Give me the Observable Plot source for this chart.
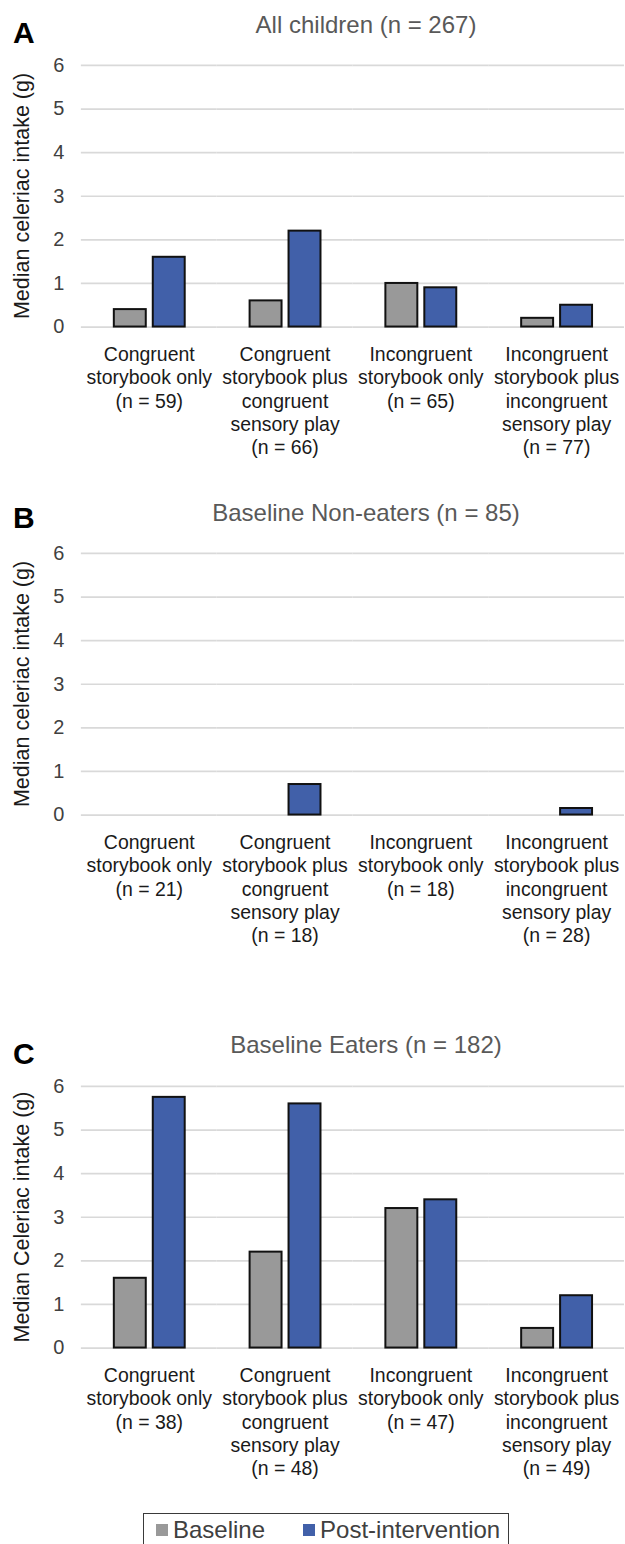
<!DOCTYPE html>
<html>
<head>
<meta charset="utf-8">
<script src="https://cdn.jsdelivr.net/npm/d3@7"></script>
<script src="https://cdn.jsdelivr.net/npm/@observablehq/plot@0.6"></script>
<style>
  html, body { margin: 0; padding: 0; background: #fff; overflow: hidden; }
  #root { position: relative; width: 625px; height: 1544px; font-family: "Liberation Sans", Arial, sans-serif; }
  .abs { position: absolute; white-space: nowrap; }
  .title { font-size: 24px; line-height: 24px; color: #595959; transform: translateX(-50%); }
  .letter { font-size: 30px; line-height: 30px; font-weight: bold; color: #000; }
  .ytitle { font-size: 21.5px; line-height: 22px; color: #1a1a1a; transform: translate(-50%, -50%) rotate(-90deg); }
  .legend { border: 1.5px solid #3a3a3a; display: flex; align-items: center; font-size: 24px; color: #404040; box-sizing: border-box; }
  .legend .sw { display: inline-block; width: 12px; height: 12px; margin-right: 5px; }
  svg { position: absolute; left: 0; overflow: visible; }
</style>
</head>
<body>
<div id="root"></div>
<script>
// ---- data ----
const groups = [
  "Congruent storybook only",
  "Congruent storybook plus congruent sensory play",
  "Incongruent storybook only",
  "Incongruent storybook plus incongruent sensory play"
];
const groupLabels = [
  "Congruent\nstorybook only",
  "Congruent\nstorybook plus\ncongruent\nsensory play",
  "Incongruent\nstorybook only",
  "Incongruent\nstorybook plus\nincongruent\nsensory play"
];
const series = ["Baseline", "Post-intervention"];
const seriesColors = ["#999999", "#4160A9"];
const yTicks = [0, 1, 2, 3, 4, 5, 6];

const panelLetters = ["A", "B", "C"];
const panelTitles = ["All children (n = 267)", "Baseline Non-eaters (n = 85)", "Baseline Eaters (n = 182)"];
const panelYTitles = ["Median celeriac intake (g)", "Median celeriac intake (g)", "Median Celeriac intake (g)"];

const nA = [59, 66, 65, 77];
const nB = [21, 18, 18, 28];
const nC = [38, 48, 47, 49];

const baselineA = [0.4, 0.6, 1.0, 0.2];
const postA     = [1.6, 2.2, 0.9, 0.5];
const baselineB = [0, 0, 0, 0];
const postB     = [0, 0.7, 0, 0.15];
const baselineC = [1.6, 2.2, 3.2, 0.45];
const postC     = [5.75, 5.6, 3.4, 1.2];

// ---- layout ----
const panelTops = [45, 533, 1066];    // svg tops
const titleTops = [12.7, 500.7, 1032.7];
const letterTops = [17.6, 502.6, 1038.6];
const marginTop = 20, innerH = 262, marginBottom = 130, marginLeft = 80;

const root = document.getElementById("root");

const panels = [
  {n: nA, base: baselineA, post: postA},
  {n: nB, base: baselineB, post: postB},
  {n: nC, base: baselineC, post: postC}
];

panels.forEach((p, i) => {
  const data = [];
  groups.forEach((g, j) => {
    data.push({group: g, series: series[0], value: p.base[j]});
    data.push({group: g, series: series[1], value: p.post[j]});
  });
  const labelFor = g => {
    const j = groups.indexOf(g);
    return groupLabels[j] + "\n(n = " + p.n[j] + ")";
  };
  const chart = Plot.plot({
    width: 626,
    height: marginTop + innerH + marginBottom,
    marginTop, marginBottom, marginLeft, marginRight: 0,
    style: {fontFamily: '"Liberation Sans", Arial, sans-serif', color: "#404040", background: "transparent", overflow: "visible"},
    fx: {domain: groups, padding: 0, label: null},
    x: {domain: series, paddingInner: 0.19, paddingOuter: 0.823, axis: null},
    y: {domain: [0, 6], axis: null},
    color: {domain: series, range: seriesColors},
    marks: [
      Plot.gridY(yTicks, {stroke: "#d9d9d9", strokeOpacity: 1, strokeWidth: 1.7}),
      Plot.axisY(yTicks, {anchor: "left", tickSize: 0, tickPadding: 17, fontSize: 20, label: null, tickFormat: d => String(d), fill: "#404040"}),
      Plot.barY(data, {fx: "group", x: "series", y: "value", fill: "series", stroke: "#111", strokeWidth: 2, filter: d => d.value > 0}),
      Plot.axisFx({anchor: "bottom", tickSize: 0, tickPadding: 17, fontSize: 19.5, lineHeight: 1.205, label: null, tickFormat: labelFor, fill: "#1a1a1a"})
    ]
  });
  chart.style.top = panelTops[i] + "px";
  root.appendChild(chart);

  const t = document.createElement("div");
  t.className = "abs title";
  t.style.left = "366px";
  t.style.top = titleTops[i] + "px";
  t.textContent = panelTitles[i];
  root.appendChild(t);

  const l = document.createElement("div");
  l.className = "abs letter";
  l.style.left = "13px";
  l.style.top = letterTops[i] + "px";
  l.textContent = panelLetters[i];
  root.appendChild(l);

  const yt = document.createElement("div");
  yt.className = "abs ytitle";
  yt.style.left = "22px";
  yt.style.top = (panelTops[i] + marginTop + innerH / 2) + "px";
  yt.textContent = panelYTitles[i];
  root.appendChild(yt);
});

// legend
const lg = document.createElement("div");
lg.className = "abs legend";
lg.style.left = "143px";
lg.style.top = "1513px";
lg.style.width = "366px";
lg.style.height = "34px";
lg.style.paddingLeft = "12px";
series.forEach((s, k) => {
  const item = document.createElement("span");
  item.style.display = "inline-flex";
  item.style.alignItems = "center";
  item.style.marginRight = k === 0 ? "38px" : "0";
  const sw = document.createElement("span");
  sw.className = "sw";
  sw.style.background = seriesColors[k];
  const tx = document.createElement("span");
  tx.textContent = s;
  item.appendChild(sw);
  item.appendChild(tx);
  lg.appendChild(item);
});
root.appendChild(lg);
</script>
</body>
</html>
